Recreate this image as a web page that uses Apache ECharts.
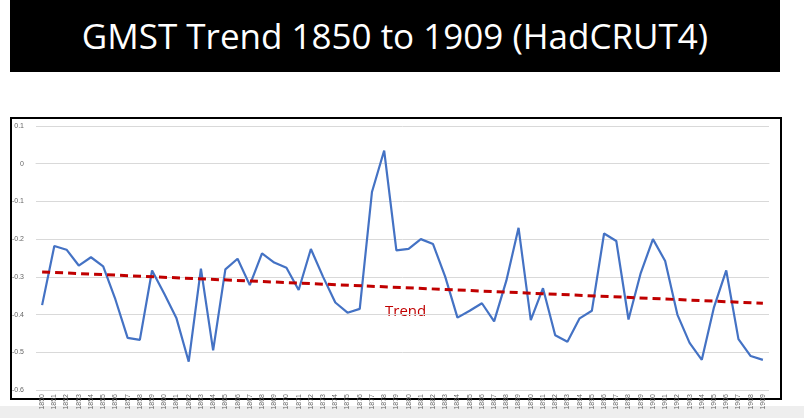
<!DOCTYPE html>
<html><head><meta charset="utf-8">
<script src="https://cdn.jsdelivr.net/npm/echarts@6/dist/echarts.min.js"></script>
<style>
body{margin:0;background:#fff;width:804px;height:418px;position:relative;overflow:hidden;font-family:"Open Sans",sans-serif}
#title{position:absolute;left:10px;top:0;width:770px;height:72px;background:#000;color:#fff;font-size:35px;line-height:72px;text-align:center}
#box{position:absolute;left:10px;top:117px;width:768px;height:279px;border:2px solid #000}
#c{position:absolute;left:0;top:0;width:804px;height:418px}
#strip{position:absolute;left:0;top:406px;width:804px;height:12px;background:#eee}
</style></head><body>
<div id="title">GMST Trend 1850 to 1909 (HadCRUT4)</div>
<div id="box"></div>
<div id="strip"></div>
<div id="c"></div>
<script>
const years = [];
for (let y = 1850; y <= 1909; y++) years.push(String(y));
const anomaly = [-0.375,-0.218,-0.228,-0.27,-0.248,-0.272,-0.36,-0.462,-0.467,-0.283,
-0.345,-0.41,-0.525,-0.278,-0.495,-0.28,-0.252,-0.322,-0.238,-0.262,
-0.276,-0.335,-0.226,-0.3,-0.368,-0.395,-0.385,-0.075,0.035,-0.23,
-0.226,-0.2,-0.213,-0.3,-0.408,-0.39,-0.37,-0.418,-0.31,-0.17,
-0.415,-0.33,-0.455,-0.472,-0.41,-0.39,-0.185,-0.205,-0.413,-0.29,
-0.2,-0.258,-0.4,-0.475,-0.52,-0.38,-0.283,-0.465,-0.51,-0.52];
const trendStart = -0.287, trendEnd = -0.37;
const trend = years.map((_, i) => i === 0 ? trendStart : (i === years.length - 1 ? trendEnd : null));
const chart = echarts.init(document.getElementById('c'));
chart.setOption({
  animation:false,
  grid:{left:36,right:35,top:126,bottom:28},
  xAxis:{type:'category',data:years,boundaryGap:true,
    axisLine:{onZero:true,lineStyle:{color:'#d9d9d9'}},axisTick:{show:false},
    axisLabel:{rotate:90,fontSize:7,color:'#666',interval:0,margin:4}},
  yAxis:{type:'value',min:-0.6,max:0.1,interval:0.1,
    axisLabel:{fontSize:7,color:'#666',margin:12,formatter:v=>String(Math.round(v*10)/10)},
    splitLine:{lineStyle:{color:'#d9d9d9'}},axisLine:{show:false},axisTick:{show:false}},
  series:[
    {type:'line',data:anomaly,symbol:'none',lineStyle:{color:'#4472c4',width:2.2}},
    {type:'line',data:trend,connectNulls:true,symbol:'none',lineStyle:{color:'#c00000',width:3,type:[8,5]}}
  ],
  graphic:[{type:'text',left:385,top:304,style:{text:'Trend',fill:'#c00000',fontSize:15,fontFamily:'Open Sans'}}]
});
</script></body></html>
